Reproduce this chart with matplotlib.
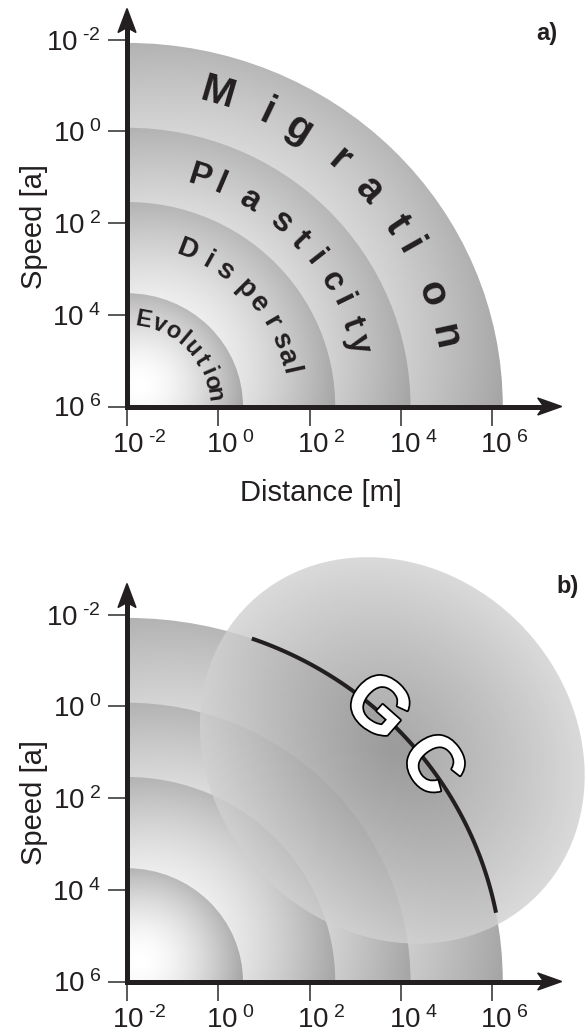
import numpy as np
import matplotlib
matplotlib.use("Agg")
import matplotlib.pyplot as plt
from matplotlib.patches import Ellipse, Polygon
from matplotlib.transforms import ScaledTranslation
from matplotlib import patheffects as pe

plt.rcParams["font.family"] = ["Liberation Sans", "DejaVu Sans"]
plt.rcParams["mathtext.fontset"] = "custom"
plt.rcParams["mathtext.rm"] = "Liberation Sans"
plt.rcParams["mathtext.it"] = "Liberation Sans:italic"
plt.rcParams["mathtext.bf"] = "Liberation Sans:bold"

# -----------------------------
# Data (log10 units)
# -----------------------------
scales = ["Migration", "Plasticity", "Dispersal", "Evolution"]
reach_distance = [6.23, 4.21, 2.56, 0.54]    # log10 distance [m], outer edge
reach_speed = [-1.93, -0.08, 1.54, 3.53]     # log10 speed [a], outer edge
tick_values = [-2, 0, 2, 4, 6]
tick_labels = [r"$10^{\,\,\mathrm{‐2}}$", r"$10^{\,\,0}$", r"$10^{\,\,2}$",
               r"$10^{\,\,4}$", r"$10^{\,\,6}$"]

# GC region (panel b)
gc_center = (3.81, 0.96)
gc_width, gc_height, gc_angle = 8.96, 7.86, 45
gc_arc_angles = (70.6, 10.9)

X0, Y0 = -2, 6   # origin of the diagram

# -----------------------------
# Layout of the curved labels
# -----------------------------
letter_angles = {
    "Migration": [73.8, 64.5, 58.1, 49.2, 41.7, 33.9, 29.5, 20.3, 12.3],
    "Plasticity": [72.3, 67.0, 59.0, 50.0, 43.8, 38.1, 31.2, 26.1, 20.2, 15.1],
    "Dispersal": [69.0, 60.8, 54.2, 44.7, 38.0, 30.1, 23.3, 17.4, 12.5],
    "Evolution": [79.5, 68.3, 58.8, 50.0, 41.5, 31.6, 23.5, 16.1, 8.2],
}
label_radius = {"Migration": 7.11, "Plasticity": 5.25, "Dispersal": 3.65, "Evolution": 1.92}
label_size = {"Migration": 29, "Plasticity": 24, "Dispersal": 20, "Evolution": 17}

INK = "#231f20"
W, H = 588, 1035
PXX, PXY = 45.66, 45.85   # pixels per decade


def make_axes(fig, origin_py, ytop):
    left = 127 / W
    width = (8.2 - X0) * PXX / W
    height = (Y0 - ytop) * PXY / H
    bottom = (H - origin_py) / H
    ax = fig.add_axes([left, bottom, width, height])
    ax.set_xlim(X0, 8.2)
    ax.set_ylim(Y0, ytop)
    return ax


def draw_discs(ax):
    for name, xd, ys_ in zip(scales, reach_distance, reach_speed):
        rx, ry = xd - X0, Y0 - ys_
        xs = np.linspace(X0, X0 + rx, 500)
        ys = np.linspace(Y0 - ry, Y0, 500)
        XX, YY = np.meshgrid(xs, ys)
        hx, hy = X0 + 0.11 * rx, Y0 - 0.18 * ry
        t = np.hypot((XX - hx) / rx, (YY - hy) / ry)
        g = 1 - 0.42 * np.clip(t, 0, 1.2) ** 1.7
        im = ax.imshow(g, cmap="gray", vmin=0, vmax=1, origin="lower",
                       extent=(xs[0], xs[-1], ys[0], ys[-1]),
                       interpolation="bilinear", aspect="auto", zorder=1)
        im.set_clip_path(Ellipse((X0, Y0), 2 * rx, 2 * ry, transform=ax.transData))


def arc_text(ax, word):
    r = label_radius[word]
    for ch, a in zip(word, letter_angles[word]):
        th = np.radians(a)
        ax.text(X0 + r * np.cos(th), Y0 - r * np.sin(th), ch,
                rotation=a - 90, rotation_mode="anchor", ha="center", va="center",
                fontsize=label_size[word], fontweight="bold", color=INK, zorder=4)


def style_axes(ax):
    ax.set_xticks(tick_values)
    ax.set_xticklabels(tick_labels)
    ax.set_yticks(tick_values)
    ax.set_yticklabels(tick_labels)
    for s in ["top", "right"]:
        ax.spines[s].set_visible(False)
    for s in ["left", "bottom"]:
        ax.spines[s].set_linewidth(3.6)
        ax.spines[s].set_color(INK)
        ax.spines[s].set_capstyle("projecting")
    ax.spines["bottom"].set_bounds(X0, 7.1)
    ax.spines["left"].set_bounds(Y0, -2.25)
    ax.tick_params(axis="both", direction="out", length=13.5, width=1.2,
                   color="#3c3c3c", labelsize=20, labelcolor=INK)
    ax.tick_params(axis="x", pad=4)
    ax.tick_params(axis="y", pad=5)
    off = ScaledTranslation(0.12, 0, ax.figure.dpi_scale_trans)
    for lab in ax.get_xticklabels():
        lab.set_transform(lab.get_transform() + off)
    # arrow heads
    L, hw, nd = 24 / PXX, 8.5 / PXY, 6 / PXX
    tipx = 7.52
    ax.add_patch(Polygon([(tipx, Y0), (tipx - L, Y0 - hw), (tipx - L + nd, Y0), (tipx - L, Y0 + hw)],
                         closed=True, color=INK, clip_on=False, zorder=5))
    L2, hw2, nd2 = 24 / PXY, 9 / PXX, 5 / PXY
    tipy = -2.68
    ax.add_patch(Polygon([(X0, tipy), (X0 - hw2, tipy + L2), (X0, tipy + L2 - nd2), (X0 + hw2, tipy + L2)],
                         closed=True, color=INK, clip_on=False, zorder=5))


fig = plt.figure(figsize=(W / 100, H / 100), dpi=100)

# -----------------------------
# Panel a
# -----------------------------
ax1 = make_axes(fig, 406.5, -2.9)
draw_discs(ax1)
for name in scales:
    arc_text(ax1, name)
style_axes(ax1)
ax1.set_xlabel("Distance [m]", fontsize=21, color=INK)
ax1.set_ylabel("Speed [a]", fontsize=21, color=INK)
ax1.xaxis.set_label_coords(0.4166, -0.178)
ax1.yaxis.set_label_coords(-0.17, 0.44)
fig.text(0.930, 0.968, "a)", fontsize=17, fontweight="bold", ha="center", va="center", color=INK)

# -----------------------------
# Panel b
# -----------------------------
ax2 = make_axes(fig, 981.5, -3.4)
draw_discs(ax2)

# GC region: semi transparent gradient ellipse
cx, cy = gc_center
half = max(gc_width, gc_height) / 2
xs = np.linspace(cx - half, cx + half, 600)
ys = np.linspace(cy - half, cy + half, 600)
XX, YY = np.meshgrid(xs, ys)
ang = np.radians(gc_angle)
u = ((XX - cx) * np.cos(ang) + (YY - cy) * np.sin(ang)) / (gc_width / 2)
v = (-(XX - cx) * np.sin(ang) + (YY - cy) * np.cos(ang)) / (gc_height / 2)
t = np.clip(np.hypot(u, v), 0, 1)
g = 0.58 + 0.24 * t ** 1.2
rgba = np.dstack([g, g, g, np.full_like(g, 0.8)])
im = ax2.imshow(rgba, origin="lower", extent=(xs[0], xs[-1], ys[0], ys[-1]),
                interpolation="bilinear", aspect="auto", zorder=2)
im.set_clip_path(Ellipse(gc_center, gc_width, gc_height, angle=gc_angle, transform=ax2.transData))

# GC boundary arc along the migration edge
rxm, rym = reach_distance[0] - X0, Y0 - reach_speed[0]
th = np.radians(np.linspace(gc_arc_angles[0], gc_arc_angles[1], 120))
ax2.plot(X0 + rxm * np.cos(th), Y0 - rym * np.sin(th), color=INK, lw=2.9,
         solid_capstyle="butt", zorder=3)
for ch, a in zip("GC", [48.5, 36.3]):
    tr = np.radians(a)
    ax2.text(X0 + rxm * np.cos(tr), Y0 - rym * np.sin(tr), ch, rotation=a - 90,
             rotation_mode="anchor", ha="center", va="center", fontsize=56,
             fontweight="bold", color="white", zorder=4,
             path_effects=[pe.withStroke(linewidth=2.5, foreground="black")])

style_axes(ax2)
ax2.set_ylabel("Speed [a]", fontsize=21, color=INK)
ax2.yaxis.set_label_coords(-0.17, 0.416)
fig.text(0.966, 0.433, "b)", fontsize=17, fontweight="bold", ha="center", va="center", color=INK)

fig.savefig("out.png", dpi=100)
